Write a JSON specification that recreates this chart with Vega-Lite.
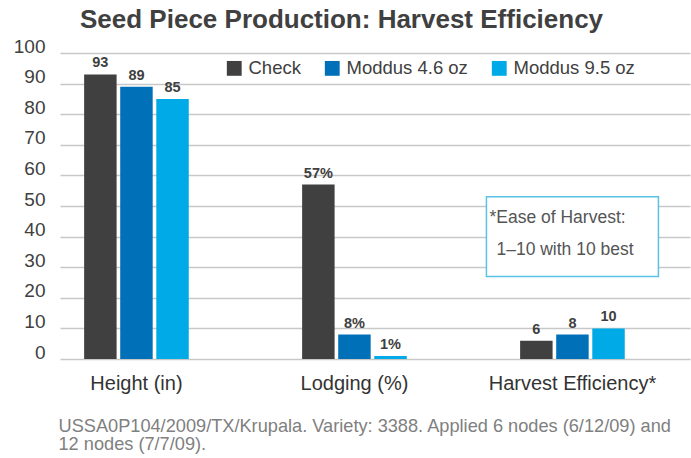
{
  "$schema": "https://vega.github.io/schema/vega-lite/v6.json",
  "width": 630,
  "height": 306,
  "autosize": {"type": "none"},
  "padding": {"left": 60, "top": 53, "right": 1, "bottom": 99},
  "background": "white",
  "config": {"view": {"stroke": null}, "font": "Liberation Sans"},
  "title": {
    "text": "Seed Piece Production: Harvest Efficiency",
    "anchor": "start",
    "frame": "group",
    "dx": 20,
    "offset": 4,
    "fontSize": 26,
    "fontWeight": "bold",
    "color": "#404040",
    "font": "Liberation Sans"
  },
  "data": {
    "values": [
      {"group": "Height (in)", "series": "Check", "value": 93, "label": "93"},
      {"group": "Height (in)", "series": "Moddus 4.6 oz", "value": 89, "label": "89"},
      {"group": "Height (in)", "series": "Moddus 9.5 oz", "value": 85, "label": "85"},
      {"group": "Lodging (%)", "series": "Check", "value": 57, "label": "57%"},
      {"group": "Lodging (%)", "series": "Moddus 4.6 oz", "value": 8, "label": "8%"},
      {"group": "Lodging (%)", "series": "Moddus 9.5 oz", "value": 1, "label": "1%"},
      {"group": "Harvest Efficiency*", "series": "Check", "value": 6, "label": "6"},
      {"group": "Harvest Efficiency*", "series": "Moddus 4.6 oz", "value": 8, "label": "8"},
      {"group": "Harvest Efficiency*", "series": "Moddus 9.5 oz", "value": 10, "label": "10"}
    ]
  },
  "layer": [
    {
      "mark": {"type": "bar"},
      "encoding": {
        "x": {
          "field": "group",
          "type": "nominal",
          "sort": ["Height (in)", "Lodging (%)", "Harvest Efficiency*"],
          "scale": {"paddingInner": 0.52, "paddingOuter": 0.205, "align": 0.27},
          "axis": {
            "labelAngle": 0,
            "labelFontSize": 20,
            "labelColor": "#333333",
            "labelPadding": 14,
            "ticks": false,
            "domain": false,
            "title": ["USSA0P104/2009/TX/Krupala. Variety: 3388. Applied 6 nodes (6/12/09) and", "12 nodes (7/7/09)."],
            "titleFontSize": 18.2,
            "titleFontWeight": "normal",
            "titleColor": "#808080",
            "titleAnchor": "start",
            "titleAlign": "left",
            "titleBaseline": "top",
            "titleX": -2,
            "titleY": 58,
            "titleLineHeight": 18.5
          }
        },
        "xOffset": {
          "field": "series",
          "type": "nominal",
          "sort": ["Check", "Moddus 4.6 oz", "Moddus 9.5 oz"],
          "scale": {"paddingInner": 0.1, "paddingOuter": 0}
        },
        "y": {
          "field": "value",
          "type": "quantitative",
          "scale": {"domain": [0, 100], "nice": false},
          "axis": {"values": [0, 10, 20, 30, 40, 50, 60, 70, 80, 90, 100], "title": null, "ticks": false, "domain": false, "labelOverlap": false, "labelFontSize": 19, "labelColor": "#404040", "labelPadding": 15, "labelOffset": -7, "gridColor": "#c8c8c8", "gridWidth": 1.5}
        },
        "color": {
          "field": "series",
          "type": "nominal",
          "scale": {
            "domain": ["Check", "Moddus 4.6 oz", "Moddus 9.5 oz"],
            "range": ["#404040", "#0070b8", "#00aae6"]
          },
          "legend": {
            "orient": "none",
            "legendX": 165,
            "legendY": 6,
            "direction": "horizontal",
            "title": null,
            "symbolType": "square",
            "symbolSize": 220,
            "symbolStrokeWidth": 0,
            "symbolOpacity": 1,
            "labelFontSize": 18.5,
            "labelColor": "#404040",
            "labelOffset": 5,
            "columnPadding": 22,
            "padding": 0
          }
        }
      }
    },
    {
      "mark": {"type": "text", "baseline": "bottom", "dy": -4, "fontSize": 14.5, "fontWeight": "bold", "color": "#404040"},
      "encoding": {
        "x": {"field": "group", "type": "nominal", "sort": ["Height (in)", "Lodging (%)", "Harvest Efficiency*"]},
        "xOffset": {"field": "series", "type": "nominal", "sort": ["Check", "Moddus 4.6 oz", "Moddus 9.5 oz"]},
        "y": {"field": "value", "type": "quantitative", "axis": {"values": [0, 10, 20, 30, 40, 50, 60, 70, 80, 90, 100], "title": null, "ticks": false, "domain": false, "labelOverlap": false, "labelFontSize": 19, "labelColor": "#404040", "labelPadding": 15, "labelOffset": -7, "gridColor": "#c8c8c8", "gridWidth": 1.5}},
        "text": {"field": "label"}
      }
    },
    {
      "data": {"values": [{}]},
      "mark": {"type": "bar", "width": 172, "fill": "white", "stroke": "#5bc2e7", "strokeWidth": 1.5},
      "encoding": {
        "x": {"datum": "Harvest Efficiency*", "type": "nominal"},
        "y": {"datum": 53, "type": "quantitative", "axis": {"values": [0, 10, 20, 30, 40, 50, 60, 70, 80, 90, 100], "title": null, "ticks": false, "domain": false, "labelOverlap": false, "labelFontSize": 19, "labelColor": "#404040", "labelPadding": 15, "labelOffset": -7, "gridColor": "#c8c8c8", "gridWidth": 1.5}},
        "y2": {"datum": 27}
      }
    },
    {
      "data": {"values": [{}]},
      "mark": {"type": "text", "align": "left", "baseline": "middle", "dx": -83, "fontSize": 17.5, "color": "#555555"},
      "encoding": {
        "x": {"datum": "Harvest Efficiency*", "type": "nominal"},
        "y": {"datum": 46, "type": "quantitative", "axis": {"values": [0, 10, 20, 30, 40, 50, 60, 70, 80, 90, 100], "title": null, "ticks": false, "domain": false, "labelOverlap": false, "labelFontSize": 19, "labelColor": "#404040", "labelPadding": 15, "labelOffset": -7, "gridColor": "#c8c8c8", "gridWidth": 1.5}},
        "text": {"value": "*Ease of Harvest:"}
      }
    },
    {
      "data": {"values": [{}]},
      "mark": {"type": "text", "align": "left", "baseline": "middle", "dx": -76, "fontSize": 17.5, "color": "#555555"},
      "encoding": {
        "x": {"datum": "Harvest Efficiency*", "type": "nominal"},
        "y": {"datum": 35.5, "type": "quantitative", "axis": {"values": [0, 10, 20, 30, 40, 50, 60, 70, 80, 90, 100], "title": null, "ticks": false, "domain": false, "labelOverlap": false, "labelFontSize": 19, "labelColor": "#404040", "labelPadding": 15, "labelOffset": -7, "gridColor": "#c8c8c8", "gridWidth": 1.5}},
        "text": {"value": "1–10 with 10 best"}
      }
    }
  ]
}
